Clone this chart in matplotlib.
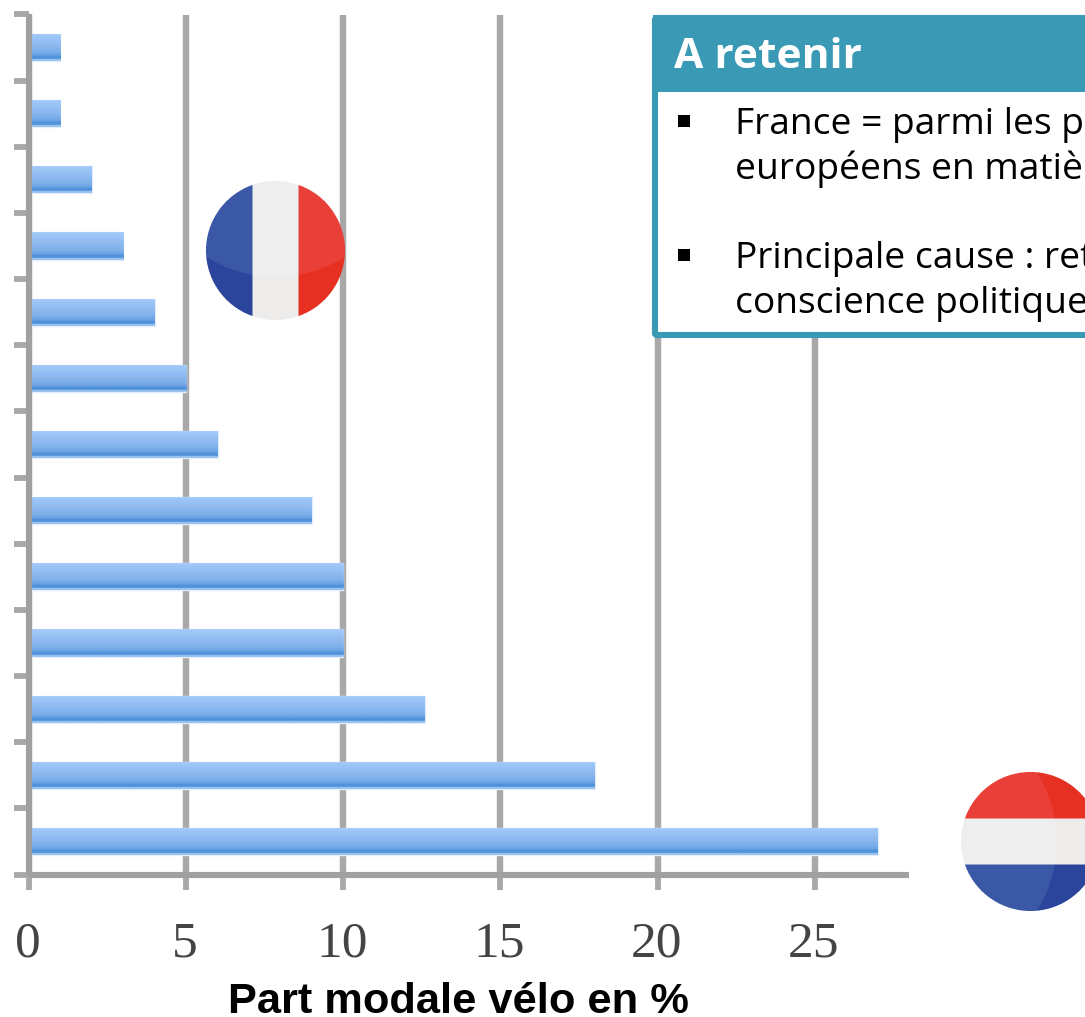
import numpy as np
import matplotlib
matplotlib.use("Agg")
import matplotlib.pyplot as plt
from matplotlib.colors import LinearSegmentedColormap, to_rgb
from matplotlib.patches import FancyBboxPatch, Rectangle
from matplotlib.transforms import ScaledTranslation

# ---------- data (top bar first) ----------
ranks = list(range(1, 14))
part_modale = [1, 1, 2, 3, 4, 5, 6, 9, 10, 10, 12.6, 18, 27]
x_ticks = [0, 5, 10, 15, 20, 25]
x_label = "Part modale vélo en %"
box_title = "A retenir"
box_lines = [
    "France = parmi les p",
    "européens en matiè",
    "Principale cause : ret",
    "conscience politique",
]

W, H = 1085, 1017
fig = plt.figure(figsize=(W / 100, H / 100), dpi=100, facecolor="white")

# ---------- chart ----------
L, R, T, B = 29, 909, 14.5, 874.5
ax = fig.add_axes([L / W, 1 - B / H, (R - L) / W, (B - T) / H])
grey = "#a8a8a8"
n = len(part_modale)
ypos = np.arange(n)[::-1]
ax.set_axisbelow(True)
ax.grid(axis="x", color=grey, lw=4.6)
bars = ax.barh(ypos, part_modale, height=0.41, color="#8ab8ee",
               edgecolor="#e3eefc", linewidth=1.0, zorder=3)
grad = LinearSegmentedColormap.from_list(
    "bar", [(0, "#a6ccfa"), (0.35, "#93bef3"), (0.65, "#7dafea"), (0.8, "#659fe2"),
            (0.84, "#4a90d9"), (0.92, "#4a90d9"), (0.94, "#9cc4f0"), (1, "#9cc4f0")])
g = np.linspace(0, 1, 64).reshape(-1, 1)
for b in bars:
    im = ax.imshow(g, cmap=grad, aspect="auto", zorder=3.1, alpha=0.94,
                   extent=[b.get_x(), b.get_x() + b.get_width(),
                           b.get_y(), b.get_y() + b.get_height()], origin="upper")
    im.set_clip_path(b)

ax.set_xlim(0, 28)
ax.set_ylim(-0.5, n - 0.5)
ax.set_xticks(x_ticks)
ax.set_yticks(np.arange(n + 1) - 0.5)
ax.set_yticklabels([])
ax.tick_params(axis="both", length=11, width=4.2, color=grey)
ax.tick_params(axis="x", pad=22.5, labelsize=37, labelcolor="#444444")
shift = ScaledTranslation(-1 / 100, 0, fig.dpi_scale_trans)
for t in ax.get_xticklabels():
    t.set_family("Liberation Serif")
    t.set_transform(t.get_transform() + shift)
for s in ("top", "right"):
    ax.spines[s].set_visible(False)
for s in ("left", "bottom"):
    ax.spines[s].set_color("#a0a0a0")
    ax.spines[s].set_linewidth(4.4)
    ax.spines[s].set_capstyle("butt")
    ax.spines[s].set_zorder(4)
ax.set_xlabel(x_label, family="Liberation Sans", fontweight="bold", fontsize=31.2,
              color="black")
ax.xaxis.set_label_coords((458 - L) / (R - L), -(1013 - B) / (B - T))
ax.xaxis.label.set_va("baseline")

# ---------- overlay in pixel coordinates ----------
ov = fig.add_axes([0, 0, 1, 1], facecolor="none")
ov.set_xlim(0, W)
ov.set_ylim(H, 0)
ov.axis("off")


def disc_flag(cx, cy, r, vertical, colours_dark, colours_light):
    """Raster badge: three stripes on a disc, with a curved lighter zone."""
    ss = 4
    half = int(r) + 2
    x0, y0 = int(cx) - half, int(cy) - half
    size = 2 * half
    c = (np.arange(size * ss) + 0.5) / ss
    X, Y = np.meshgrid(x0 + c, y0 + c)
    dx, dy = X - cx, Y - cy
    u = dx if vertical else dy          # across the stripes
    if vertical:
        light = (dx / 105) ** 2 + ((dy - 26 + 80) / 80) ** 2 <= 1
    else:
        light = ((dx - 26 + 80) / 80) ** 2 + (dy / 105) ** 2 <= 1
    idx = np.digitize(u, [-0.33 * r, 0.33 * r])
    rgb = np.zeros(X.shape + (3,))
    for i in range(3):
        m = idx == i
        rgb[m & ~light] = to_rgb(colours_dark[i])
        rgb[m & light] = to_rgb(colours_light[i])
    alpha = (dx ** 2 + dy ** 2 <= r ** 2).astype(float)
    rgba = np.dstack([rgb, alpha])
    rgba[..., :3] *= rgba[..., 3:]
    rgba = rgba.reshape(size, ss, size, ss, 4).mean(axis=(1, 3))
    a = rgba[..., 3:]
    rgba[..., :3] = np.divide(rgba[..., :3], a, out=np.ones_like(rgba[..., :3]), where=a > 0)
    ov.imshow(rgba, extent=[x0, x0 + size, y0 + size, y0], interpolation="nearest",
              aspect="auto", zorder=3)


disc_flag(275.5, 250.5, 69.5, True,
          ["#2b469c", "#eeecea", "#e63023"], ["#3a59a6", "#eeeeee", "#e93f39"])
disc_flag(1030.5, 841.5, 69.5, False,
          ["#e63023", "#eeecea", "#2b469c"], ["#e93f39", "#eeeeee", "#3a59a6"])
ov.set_xlim(0, W)
ov.set_ylim(H, 0)

# ---------- takeaway box ----------
teal = "#3a9ab5"
ov.add_patch(FancyBboxPatch((655, 18), 500, 317, boxstyle="round,pad=0,rounding_size=2",
                            fc="white", ec=teal, lw=4.4, zorder=4))
ov.add_patch(Rectangle((653, 15), 500, 77, fc=teal, lw=0, zorder=4.1))
ov.text(674, 68, box_title, family="Open Sans", fontweight="bold", fontsize=30.6,
        color="white", va="baseline", zorder=5)
txt_y = [134, 179, 268, 313]
for s, y in zip(box_lines, txt_y):
    ov.text(735, y, s, family="Open Sans", fontsize=26.7, color="black",
            va="baseline", zorder=5)
for y in (120.5, 254.5):
    ov.add_patch(Rectangle((678, y - 6), 11.5, 12, fc="black", lw=0, zorder=5))

fig.savefig("out.png", dpi=100)
